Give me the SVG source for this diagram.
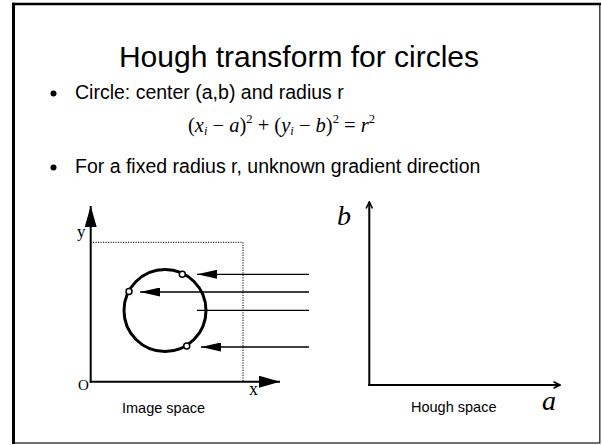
<svg xmlns="http://www.w3.org/2000/svg" width="602" height="445" viewBox="0 0 602 445">
<style>
.sans{font-family:"Liberation Sans",Arial,sans-serif;fill:#000}
.serif{font-family:"Liberation Serif","Times New Roman",serif;fill:#000}
.it{font-style:italic}
.ray{stroke:#000;stroke-width:1.3;fill:none}
.axis{stroke:#000;stroke-width:2;fill:none}
.dot{stroke:#000;stroke-width:1;stroke-dasharray:1.2 1.3;fill:none}
</style>
<defs>
<marker id="tri" viewBox="0 0 20 9" refX="20" refY="4.5" markerWidth="20" markerHeight="9" markerUnits="userSpaceOnUse" orient="auto">
<path d="M0,0 L20,4.5 L0,9 Z" fill="#000"/>
</marker>
<marker id="big" viewBox="0 0 21 12" refX="21" refY="6" markerWidth="21" markerHeight="12" markerUnits="userSpaceOnUse" orient="auto">
<path d="M0,0 L21,6 L0,12 Z" fill="#000"/>
</marker>
<marker id="small" viewBox="0 0 8 8" refX="7" refY="4" markerWidth="8" markerHeight="8" markerUnits="userSpaceOnUse" orient="auto">
<path d="M0.5,0.8 L7,4 L0.5,7.2" fill="none" stroke="#000" stroke-width="1.6"/>
</marker>
</defs>
<rect width="602" height="445" fill="#fff"/>
<g id="frame">
<rect x="13.5" y="4" width="586.3" height="439" fill="none" stroke="#333" stroke-width="1.4"/>
<line x1="13.5" y1="2.7" x2="13.5" y2="444" stroke="#000" stroke-width="3"/>
<line x1="12" y1="4" x2="601" y2="4" stroke="#000" stroke-width="2.6"/>
</g>
<g id="title">
<text class="sans" x="299" y="67" font-size="30" text-anchor="middle">Hough transform for circles</text>
</g>
<g id="bullets">
<circle cx="53.5" cy="93.5" r="3" fill="#000"/>
<text class="sans" x="75" y="99" font-size="19.5">Circle: center (a,b) and radius r</text>
<text class="serif" x="188" y="132" font-size="20.5">(<tspan class="it">x</tspan><tspan class="it" font-size="12.5" dy="3">i</tspan><tspan dy="-3"> − </tspan><tspan class="it">a</tspan>)<tspan font-size="12.5" dy="-9">2</tspan><tspan dy="9"> + (</tspan><tspan class="it">y</tspan><tspan class="it" font-size="12.5" dy="3">i</tspan><tspan dy="-3"> − </tspan><tspan class="it">b</tspan>)<tspan font-size="12.5" dy="-9">2</tspan><tspan dy="9"> = </tspan><tspan class="it">r</tspan><tspan font-size="12.5" dy="-9">2</tspan></text>
<circle cx="53.5" cy="167.5" r="3" fill="#000"/>
<text class="sans" x="75" y="173" font-size="19.5">For a fixed radius r, unknown gradient direction</text>
</g>
<g id="image-space">
<line class="axis" x1="90.7" y1="382.7" x2="90.7" y2="206" marker-end="url(#big)"/>
<line class="axis" x1="89.7" y1="381.7" x2="280" y2="381.7" marker-end="url(#big)"/>
<polyline class="dot" points="93,242.3 243,242.3 243,381"/>
<text class="serif" x="77" y="237" font-size="17">y</text>
<text class="serif" x="78" y="390" font-size="15">O</text>
<text class="serif" x="249" y="395" font-size="18">x</text>
<circle cx="165" cy="310.5" r="41" fill="none" stroke="#000" stroke-width="3"/>
<text class="sans" x="122" y="413" font-size="14.5">Image space</text>
</g>
<g id="connectors">
<line class="ray" x1="309" y1="274.3" x2="197" y2="274.3" marker-end="url(#tri)"/>
<line class="ray" x1="309" y1="292" x2="140" y2="292" marker-end="url(#tri)"/>
<line class="ray" x1="309" y1="310.3" x2="197" y2="310.3"/>
<line class="ray" x1="309" y1="347" x2="201" y2="347" marker-end="url(#tri)"/>
</g>
<g id="points">
<circle cx="182.3" cy="274.3" r="3" fill="#fff" stroke="#000" stroke-width="1.5"/>
<circle cx="129" cy="291.5" r="3" fill="#fff" stroke="#000" stroke-width="1.5"/>
<circle cx="186.7" cy="346" r="3" fill="#fff" stroke="#000" stroke-width="1.5"/>
</g>
<g id="hough-space">
<line class="axis" x1="369.3" y1="386" x2="369.3" y2="202" marker-end="url(#small)"/>
<line class="axis" x1="368.3" y1="385" x2="560" y2="385" marker-end="url(#small)"/>
<text class="serif it" x="337" y="225" font-size="28">b</text>
<text class="serif it" x="542" y="410" font-size="28">a</text>
<text class="sans" x="411" y="412" font-size="14.5">Hough space</text>
</g>
</svg>
